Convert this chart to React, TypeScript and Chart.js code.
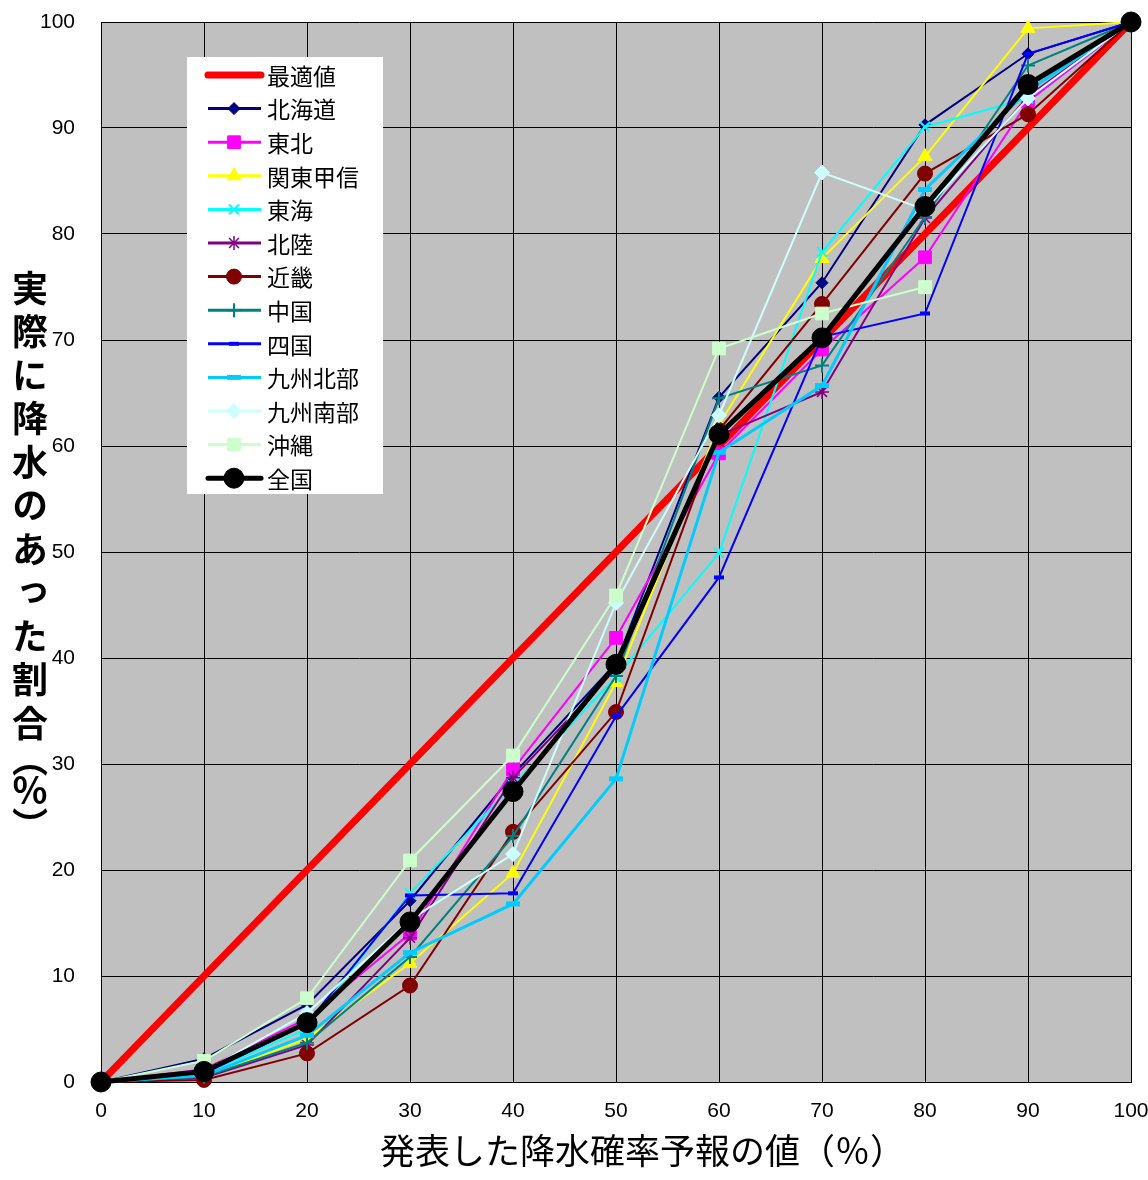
import React, { useEffect, useRef } from 'react';
import { Chart, registerables } from 'chart.js';
import { drawPoint } from 'chart.js/helpers';

Chart.register(...registerables);

// 発表した降水確率予報の値（％）
const forecastPct = [0, 10, 20, 30, 40, 50, 60, 70, 80, 90, 100];
const xTickLabels = ['0', '10', '20', '30', '40', '50', '60', '70', '80', '90', '100'];

const seriesNames = ['最適値', '北海道', '東北', '関東甲信', '東海', '北陸', '近畿', '中国', '四国', '九州北部', '九州南部', '沖縄', '全国'];

// 実際に降水のあった割合（％）
const optimal = [0, 10, 20, 30, 40, 50, 60, 70, 80, 90, 100];
const hokkaido = [0, 2.2, 7.3, 17.1, 29.0, 39.5, 64.6, 75.4, 90.3, 97.0, 100];
const tohoku = [0, 1.2, 6.0, 14.0, 29.5, 41.9, 59.3, 69.1, 77.8, 92.5, 100];
const kantoKoshin = [0, 0.5, 4.1, 11.2, 19.7, 37.7, 62.0, 77.7, 87.3, 99.4, 100];
const tokai = [0, 0.8, 5.0, 17.8, 28.0, 38.2, 49.9, 78.3, 90.1, 92.8, 100];
const hokuriku = [0, 0.4, 3.5, 13.6, 28.7, 39.0, 61.0, 65.1, 81.5, 93.0, 100];
const kinki = [0, 0.2, 2.7, 9.1, 23.6, 34.9, 61.5, 73.4, 85.7, 91.3, 100];
const chugoku = [0, 0.5, 3.7, 11.8, 23.2, 38.3, 64.5, 67.6, 81.6, 95.9, 100];
const shikoku = [0, 0.8, 5.5, 17.6, 17.8, 34.5, 47.6, 70.3, 72.5, 97.0, 100];
const kyushuNorth = [0, 0.6, 4.4, 12.2, 16.8, 28.6, 59.4, 65.7, 84.2, 93.5, 100];
const kyushuSouth = [0, 1.0, 6.5, 15.3, 21.5, 45.2, 62.9, 85.8, 82.3, 92.8, 100];
const okinawa = [0, 2.0, 7.9, 20.9, 30.8, 45.9, 69.2, 72.5, 75.0, null, null];
const national = [0, 1.0, 5.6, 15.1, 27.4, 39.4, 61.1, 70.2, 82.6, 94.1, 100];

const seriesValues = [optimal, hokkaido, tohoku, kantoKoshin, tokai, hokuriku, kinki, chugoku, shikoku, kyushuNorth, kyushuSouth, okinawa, national];

const seriesColors = ['#FF0000', '#000080', '#FF00FF', '#FFFF00', '#00FFFF', '#800080', '#800000', '#008080', '#0000FF', '#00CCFF', '#CCFFFF', '#CCFFCC', '#000000'];
const seriesLineWidths = [7, 2, 2, 2, 2, 2, 2, 2, 2, 3, 2, 2, 5];
const seriesPointStyles = ['circle', 'rectRot', 'rect', 'triangle', 'crossRot', 'star', 'circle', 'cross', 'line', 'line', 'rectRot', 'rect', 'circle'];
const seriesPointRadii = [0, 6, 9, 8, 7, 7, 7.5, 7, 5, 7, 7.5, 9, 10];
const seriesPointBorders = [0, 1, 1, 1, 2, 1.5, 1, 2, 4, 5, 1, 1, 1];

const FONT_JP = '"Noto Sans CJK JP", "Noto Sans CJK SC", sans-serif';
const FONT_NUM = '"Liberation Sans", Arial, sans-serif';

const plotBackground = {
  id: 'plotBackground',
  beforeDraw(chart: any) {
    const { ctx, chartArea } = chart;
    ctx.save();
    ctx.fillStyle = '#C0C0C0';
    ctx.fillRect(chartArea.left, chartArea.top, chartArea.right - chartArea.left, chartArea.bottom - chartArea.top);
    ctx.restore();
  },
};

const boxLegend = {
  id: 'boxLegend',
  afterDraw(chart: any) {
    const { ctx, chartArea } = chart;
    const boxX = chartArea.left + 86;
    const boxY = chartArea.top + 35;
    const boxW = 196;
    const boxH = 437;
    const rowH = 33.6;
    ctx.save();
    ctx.fillStyle = '#FFFFFF';
    ctx.fillRect(boxX, boxY, boxW, boxH);
    seriesNames.forEach((name, i) => {
      const cy = boxY + 18 + i * rowH;
      const color = seriesColors[i];
      const lw = seriesLineWidths[i] < 3 ? 3 : seriesLineWidths[i];
      ctx.strokeStyle = color;
      ctx.lineWidth = lw;
      ctx.lineCap = i === 0 || i === seriesNames.length - 1 ? 'round' : 'butt';
      ctx.beginPath();
      ctx.moveTo(boxX + 21, cy);
      ctx.lineTo(boxX + 74, cy);
      ctx.stroke();
      if (seriesPointRadii[i] > 0) {
        ctx.fillStyle = color;
        ctx.strokeStyle = color;
        ctx.lineWidth = seriesPointBorders[i];
        drawPoint(ctx, {
          pointStyle: seriesPointStyles[i] as any,
          rotation: 0,
          radius: seriesPointRadii[i],
          borderWidth: seriesPointBorders[i],
        } as any, boxX + 47, cy);
      }
      ctx.fillStyle = '#000000';
      ctx.font = `23px ${FONT_JP}`;
      ctx.textBaseline = 'middle';
      ctx.textAlign = 'left';
      ctx.fillText(name, boxX + 80, cy + 1);
    });
    ctx.restore();
  },
};

export default function App() {
  const canvasRef = useRef<HTMLCanvasElement | null>(null);

  useEffect(() => {
    if (!canvasRef.current) return;
    const n = seriesNames.length;
    const chart = new Chart(canvasRef.current, {
      type: 'line',
      data: {
        datasets: seriesNames.map((name, i) => ({
          label: name,
          data: forecastPct.map((x, j) => ({ x, y: seriesValues[i][j] })),
          borderColor: seriesColors[i],
          backgroundColor: seriesColors[i],
          borderWidth: seriesLineWidths[i],
          pointStyle: seriesPointStyles[i] as any,
          pointRadius: seriesPointRadii[i],
          pointBorderWidth: seriesPointBorders[i],
          pointBackgroundColor: seriesColors[i],
          pointBorderColor: seriesColors[i],
          pointHoverRadius: seriesPointRadii[i],
          tension: 0,
          fill: false,
          spanGaps: false,
          clip: false as any,
          order: n - i,
        })),
      },
      options: {
        animation: false,
        responsive: false,
        devicePixelRatio: 1,
        events: [],
        layout: { padding: { top: 22, left: 8, right: 17, bottom: 0 } },
        plugins: {
          legend: { display: false },
          tooltip: { enabled: false },
          title: { display: false },
        },
        scales: {
          x: {
            type: 'linear',
            min: 0,
            max: 100,
            afterBuildTicks(scale: any) {
              scale.ticks = forecastPct.map((v) => ({ value: v }));
            },
            afterFit(scale: any) {
              scale.height = 98;
              scale.paddingLeft = 0;
              scale.paddingRight = 0;
              scale.paddingTop = 0;
              scale.paddingBottom = 0;
            },
            ticks: {
              callback: (_v: any, idx: number) => xTickLabels[idx],
              font: { family: FONT_NUM, size: 21 },
              color: '#000000',
              padding: 17,
              maxRotation: 0,
              autoSkip: false,
            },
            grid: { color: '#000000', lineWidth: 1, drawTicks: false },
            border: { display: true, color: '#000000', width: 1 },
          },
          y: {
            type: 'linear',
            min: 0,
            max: 100,
            afterFit(scale: any) {
              scale.width = 93;
              scale.paddingLeft = 0;
              scale.paddingRight = 0;
              scale.paddingTop = 0;
              scale.paddingBottom = 0;
            },
            ticks: {
              stepSize: 10,
              font: { family: FONT_NUM, size: 21 },
              color: '#000000',
              padding: 26,
              autoSkip: false,
            },
            grid: { color: '#000000', lineWidth: 1, drawTicks: false },
            border: { display: true, color: '#000000', width: 1 },
          },
        },
      },
      plugins: [plotBackground, boxLegend],
    });
    return () => chart.destroy();
  }, []);

  return (
    <div style={{ position: 'absolute', left: 0, top: 0, width: 1148, height: 1180, background: '#FFFFFF' }}>
      <canvas ref={canvasRef} width={1148} height={1180} style={{ display: 'block', width: 1148, height: 1180 }} />
      <div
        style={{
          position: 'absolute',
          left: 11,
          top: 270,
          writingMode: 'vertical-rl',
          textOrientation: 'upright',
          fontFamily: FONT_JP,
          fontSize: 36,
          fontWeight: 'bold',
          lineHeight: '38px',
          letterSpacing: '7.5px',
          color: '#000000',
          whiteSpace: 'nowrap',
        }}
      >
        実際に降水のあった割合<span style={{ letterSpacing: '-12px', position: 'relative', top: -8 }}>（</span><span style={{ letterSpacing: '-16px' }}>％</span><span style={{ position: 'relative', top: 14 }}>）</span>
      </div>
      <div
        style={{
          position: 'absolute',
          left: 380,
          top: 1129,
          fontFamily: FONT_JP,
          fontSize: 35,
          lineHeight: '40px',
          color: '#000000',
          whiteSpace: 'nowrap',
        }}
      >
        発表した降水確率予報の値（％）
      </div>
    </div>
  );
}
